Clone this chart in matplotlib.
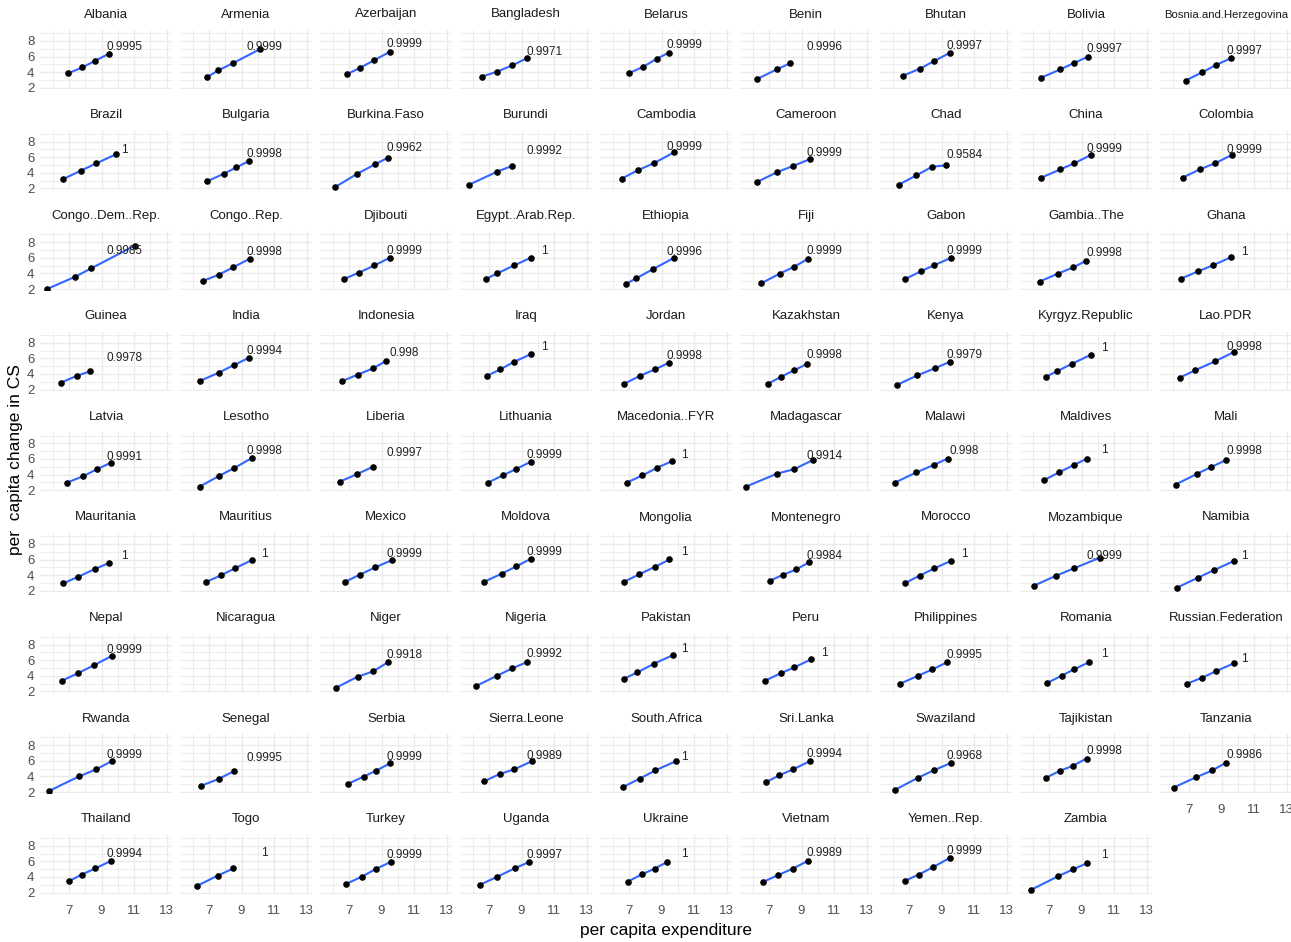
import numpy as np
import matplotlib
matplotlib.use("Agg")
import matplotlib.pyplot as plt
from matplotlib import font_manager

countries = ["Albania", "Armenia", "Azerbaijan", "Bangladesh", "Belarus", "Benin", "Bhutan", "Bolivia", "Bosnia.and.Herzegovina",
             "Brazil", "Bulgaria", "Burkina.Faso", "Burundi", "Cambodia", "Cameroon", "Chad", "China", "Colombia",
             "Congo..Dem..Rep.", "Congo..Rep.", "Djibouti", "Egypt..Arab.Rep.", "Ethiopia", "Fiji", "Gabon", "Gambia..The", "Ghana",
             "Guinea", "India", "Indonesia", "Iraq", "Jordan", "Kazakhstan", "Kenya", "Kyrgyz.Republic", "Lao.PDR",
             "Latvia", "Lesotho", "Liberia", "Lithuania", "Macedonia..FYR", "Madagascar", "Malawi", "Maldives", "Mali",
             "Mauritania", "Mauritius", "Mexico", "Moldova", "Mongolia", "Montenegro", "Morocco", "Mozambique", "Namibia",
             "Nepal", "Nicaragua", "Niger", "Nigeria", "Pakistan", "Peru", "Philippines", "Romania", "Russian.Federation",
             "Rwanda", "Senegal", "Serbia", "Sierra.Leone", "South.Africa", "Sri.Lanka", "Swaziland", "Tajikistan", "Tanzania",
             "Thailand", "Togo", "Turkey", "Uganda", "Ukraine", "Vietnam", "Yemen..Rep.", "Zambia"]

# per capita expenditure (x)
exp_vals = [
    [6.96, 7.83, 8.57, 9.44], [6.90, 7.58, 8.48, 10.16], [6.90, 7.69, 8.56, 9.50], [6.55, 7.50, 8.42, 9.34],
    [6.99, 7.88, 8.70, 9.46], [6.28, 7.48, 8.32], [6.65, 7.67, 8.51, 9.50], [6.53, 7.70, 8.52, 9.38],
    [6.79, 7.81, 8.68, 9.60],
    [6.66, 7.73, 8.67, 9.90], [6.90, 7.92, 8.68, 9.45], [6.14, 7.52, 8.59, 9.38], [5.76, 7.50, 8.39],
    [6.55, 7.53, 8.54, 9.75], [6.28, 7.52, 8.46, 9.52], [6.39, 7.46, 8.43, 9.25], [6.53, 7.70, 8.54, 9.59],
    [6.61, 7.66, 8.58, 9.62],
    [5.64, 7.40, 8.37, 11.05], [6.64, 7.61, 8.48, 9.50], [6.70, 7.61, 8.56, 9.50], [6.81, 7.52, 8.54, 9.56],
    [6.82, 7.45, 8.49, 9.77], [6.54, 7.66, 8.55, 9.40], [6.78, 7.72, 8.56, 9.58], [6.43, 7.55, 8.49, 9.28],
    [6.51, 7.56, 8.50, 9.57],
    [6.51, 7.50, 8.29], [6.44, 7.59, 8.53, 9.45], [6.60, 7.54, 8.48, 9.30], [6.89, 7.70, 8.54, 9.61],
    [6.69, 7.70, 8.60, 9.44], [6.92, 7.76, 8.53, 9.35], [6.27, 7.52, 8.59, 9.50], [6.83, 7.52, 8.42, 9.56],
    [6.44, 7.40, 8.60, 9.75],
    [6.89, 7.86, 8.70, 9.57], [6.44, 7.61, 8.55, 9.62], [6.44, 7.51, 8.48], [6.94, 7.86, 8.67, 9.56],
    [6.87, 7.82, 8.70, 9.64], [5.60, 7.48, 8.56, 9.68], [6.14, 7.46, 8.51, 9.38], [6.71, 7.62, 8.52, 9.31],
    [6.18, 7.48, 8.35, 9.27],
    [6.66, 7.58, 8.58, 9.44], [6.82, 7.74, 8.58, 9.62], [6.75, 7.67, 8.61, 9.63], [6.68, 7.78, 8.67, 9.56],
    [6.69, 7.62, 8.57, 9.49], [7.07, 7.89, 8.68, 9.47], [6.78, 7.65, 8.56, 9.58], [6.09, 7.45, 8.52, 10.15],
    [6.28, 7.56, 8.55, 9.78],
    [6.58, 7.53, 8.55, 9.67], [], [6.19, 7.54, 8.48, 9.40], [6.22, 7.50, 8.42, 9.31],
    [6.70, 7.52, 8.52, 9.72], [6.77, 7.71, 8.55, 9.60], [6.47, 7.57, 8.43, 9.35], [6.89, 7.78, 8.52, 9.46],
    [6.89, 7.81, 8.63, 9.78],
    [5.79, 7.63, 8.67, 9.62], [6.49, 7.59, 8.51], [6.93, 7.90, 8.66, 9.55], [6.71, 7.65, 8.54, 9.64],
    [6.65, 7.66, 8.62, 9.89], [6.84, 7.63, 8.50, 9.52], [6.14, 7.57, 8.51, 9.56], [6.83, 7.65, 8.47, 9.31],
    [6.05, 7.43, 8.43, 9.27],
    [7.02, 7.78, 8.62, 9.59], [6.26, 7.53, 8.50], [6.83, 7.79, 8.64, 9.58], [6.43, 7.52, 8.57, 9.49],
    [6.94, 7.80, 8.57, 9.36], [6.64, 7.53, 8.45, 9.40], [6.78, 7.59, 8.49, 9.51], [5.89, 7.55, 8.47, 9.34],
]

# per capita change in CS (y)
cs_vals = [
    [3.86, 4.62, 5.42, 6.35], [3.39, 4.24, 5.16, 6.98], [3.77, 4.57, 5.54, 6.60], [3.43, 4.07, 4.87, 5.80],
    [3.86, 4.70, 5.71, 6.51], [3.14, 4.36, 5.16], [3.56, 4.45, 5.38, 6.47], [3.31, 4.36, 5.16, 5.97],
    [2.93, 3.98, 4.95, 5.80],
    [3.22, 4.27, 5.20, 6.38], [2.92, 3.89, 4.69, 5.50], [2.16, 3.89, 5.07, 5.92], [2.46, 4.14, 4.86],
    [3.25, 4.31, 5.24, 6.60], [2.84, 4.10, 4.86, 5.75], [2.50, 3.68, 4.78, 4.95], [3.38, 4.44, 5.20, 6.30],
    [3.38, 4.44, 5.20, 6.26],
    [1.99, 3.59, 4.65, 7.56], [3.04, 3.84, 4.77, 5.87], [3.29, 4.09, 5.02, 5.99], [3.29, 4.01, 5.02, 5.99],
    [2.66, 3.38, 4.56, 5.99], [2.75, 3.97, 4.85, 5.87], [3.29, 4.26, 5.06, 5.99], [2.96, 3.97, 4.77, 5.61],
    [3.33, 4.26, 5.06, 6.07],
    [2.90, 3.78, 4.33], [3.11, 4.16, 5.14, 6.07], [3.11, 3.92, 4.72, 5.69], [3.78, 4.59, 5.56, 6.57],
    [2.73, 3.79, 4.59, 5.43], [2.73, 3.66, 4.46, 5.30], [2.61, 3.83, 4.72, 5.56], [3.66, 4.38, 5.31, 6.45],
    [3.53, 4.50, 5.62, 6.80],
    [2.98, 3.78, 4.67, 5.51], [2.47, 3.82, 4.84, 6.10], [3.10, 4.08, 5.00], [2.98, 3.91, 4.71, 5.64],
    [2.98, 3.89, 4.84, 5.72], [2.47, 4.11, 4.70, 5.85], [2.98, 4.29, 5.22, 6.06], [3.31, 4.29, 5.22, 6.02],
    [2.73, 4.08, 4.96, 5.85],
    [2.97, 3.81, 4.78, 5.54], [3.14, 3.98, 4.87, 5.92], [3.14, 4.07, 5.00, 5.92], [3.14, 4.19, 5.12, 6.09],
    [3.14, 4.11, 5.04, 6.01], [3.31, 4.07, 4.74, 5.67], [3.01, 3.94, 4.87, 5.84], [2.68, 3.94, 4.87, 6.26],
    [2.42, 3.69, 4.66, 5.84],
    [3.38, 4.31, 5.36, 6.59], [], [2.46, 3.89, 4.56, 5.74], [2.71, 4.01, 4.94, 5.74],
    [3.63, 4.44, 5.53, 6.67], [3.38, 4.31, 5.07, 6.12], [3.00, 4.01, 4.81, 5.74], [3.09, 4.01, 4.81, 5.74],
    [3.00, 3.76, 4.56, 5.62],
    [2.15, 4.01, 4.90, 5.95], [2.78, 3.67, 4.64], [3.04, 3.97, 4.73, 5.70], [3.38, 4.30, 4.89, 5.95],
    [2.66, 3.71, 4.77, 5.95], [3.29, 4.13, 4.93, 5.95], [2.28, 3.84, 4.77, 5.70], [3.84, 4.69, 5.36, 6.29],
    [2.57, 3.88, 4.77, 5.74],
    [3.49, 4.30, 5.10, 6.07], [2.86, 4.17, 5.10], [3.12, 4.04, 5.02, 5.94], [2.99, 4.04, 5.10, 5.94],
    [3.42, 4.35, 5.06, 5.94], [3.37, 4.21, 5.06, 6.07], [3.54, 4.30, 5.27, 6.45], [2.35, 4.08, 4.97, 5.77],
]

r2_labels = ["0.9995", "0.9999", "0.9999", "0.9971", "0.9999", "0.9996", "0.9997", "0.9997", "0.9997",
             "1", "0.9998", "0.9962", "0.9992", "0.9999", "0.9999", "0.9584", "0.9999", "0.9999",
             "0.9985", "0.9998", "0.9999", "1", "0.9996", "0.9999", "0.9999", "0.9998", "1",
             "0.9978", "0.9994", "0.998", "1", "0.9998", "0.9998", "0.9979", "1", "0.9998",
             "0.9991", "0.9998", "0.9997", "0.9999", "1", "0.9914", "0.998", "1", "0.9998",
             "1", "1", "0.9999", "0.9999", "1", "0.9984", "1", "0.9999", "1",
             "0.9999", "", "0.9918", "0.9992", "1", "1", "0.9995", "1", "1",
             "0.9999", "0.9995", "0.9999", "0.9989", "1", "0.9994", "0.9968", "0.9998", "0.9986",
             "0.9994", "1", "0.9999", "0.9997", "1", "0.9989", "0.9999", "1"]

x_ticks = [7, 9, 11, 13]
y_ticks = [2, 4, 6, 8]

names = {f.name for f in font_manager.fontManager.ttflist}
fam = "Liberation Sans Narrow" if "Liberation Sans Narrow" in names else "Liberation Sans"
plt.rcParams["font.family"] = fam

W, H = 1291, 942
fig = plt.figure(figsize=(W / 100, H / 100), dpi=100)

ncol = 9
n = len(countries)
for i, name in enumerate(countries):
    r, c = divmod(i, ncol)
    left = 40 + 140 * c
    top = 30 + 100.6 * r
    ax = fig.add_axes([left / W, 1 - (top + 59) / H, 132 / W, 59 / H])
    ax.set_xlim(5.22, 13.33)
    ax.set_ylim(1.85, 9.4)
    ax.set_xticks(x_ticks)
    ax.set_yticks(y_ticks)
    ax.set_xticks([6, 8, 10, 12], minor=True)
    ax.set_yticks([3, 5, 7, 9], minor=True)
    ax.grid(True, which="major", color="#EBEBEB", lw=1.0)
    ax.grid(True, which="minor", color="#EBEBEB", lw=0.6)
    ax.set_axisbelow(True)
    for s in ax.spines.values():
        s.set_visible(False)
    ax.tick_params(which="both", length=0, labelsize=9.5, colors="#4D4D4D")
    ax.tick_params(axis="x", pad=8)
    ax.tick_params(axis="y", pad=4)
    bottom_row = (i + ncol >= n)
    if not bottom_row:
        ax.set_xticklabels([])
    if c != 0:
        ax.set_yticklabels([])
    tsize = 9.5 if len(name) < 20 else 8.2
    ax.set_title(name, fontsize=tsize, color="#1A1A1A", pad=9)

    xs = np.array(exp_vals[i])
    ys = np.array(cs_vals[i])
    if len(xs) == 0:
        continue
    ax.plot(xs, ys, color="#3366FF", lw=1.5, zorder=2)
    ax.scatter(xs, ys, s=14, color="black", zorder=3)
    slope, icpt = np.polyfit(xs, ys, 1)
    ax.text(10.4, slope * 10.4 + icpt, r2_labels[i], fontsize=8.5, color="#222222",
            ha="center", va="center", zorder=4)

fig.text(666 / W, 1 - 931 / H, "per capita expenditure", ha="center", va="center", fontsize=12.5)
fig.text(16 / W, 1 - 460 / H, "per  capita change in CS", ha="center", va="center",
         rotation=90, fontsize=12.5)

fig.savefig("out.png", dpi=100, facecolor="white")
